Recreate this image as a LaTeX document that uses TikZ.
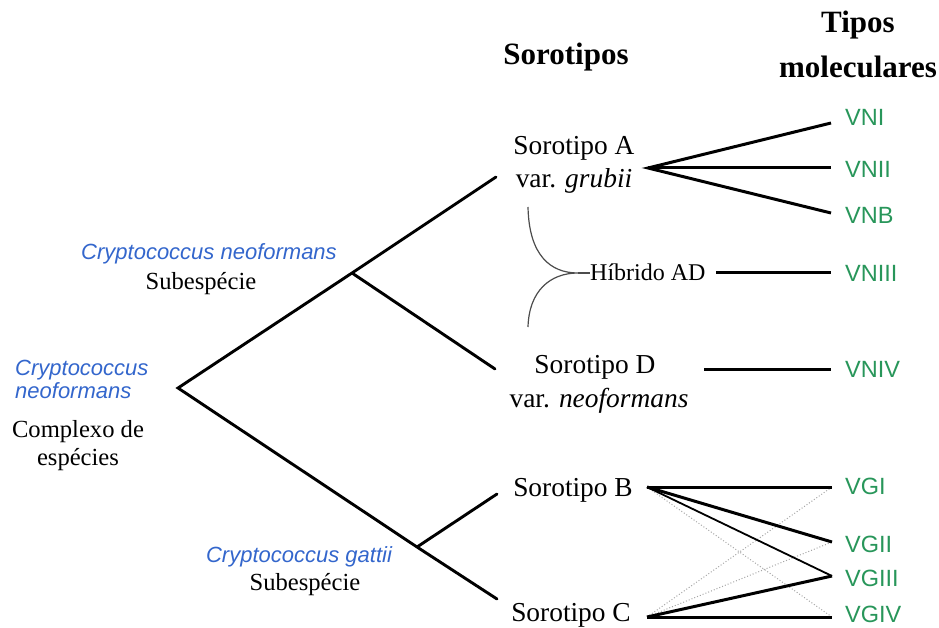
\documentclass[tikz,border=0pt]{standalone}
\usepackage{fontspec}
\setmainfont{Liberation Serif}
\setsansfont{Liberation Sans}
\definecolor{cblue}{RGB}{51,102,204}
\definecolor{cgreen}{RGB}{40,150,90}
\begin{document}
\begin{tikzpicture}[x=1pt,y=-1pt,
 branch/.style={line width=2.9pt, line cap=round},
 fanline/.style={line width=3pt},
 midline/.style={line width=1.8pt},
 dotline/.style={line width=1pt, gray!70, dotted},
 hybline/.style={line width=1.2pt, black!70},
 serif/.style={font=\fontsize{27.4}{33}\selectfont, anchor=base, inner sep=0pt},
 small/.style={font=\fontsize{24.6}{28}\selectfont, anchor=base, inner sep=0pt},
 head/.style={font=\fontsize{31}{36}\selectfont\bfseries, anchor=base, inner sep=0pt},
 spec/.style={font=\fontsize{22}{26}\selectfont\sffamily\itshape, text=cblue, anchor=base, inner sep=0pt},
 mol/.style={font=\fontsize{23.5}{28}\selectfont\sffamily, text=cgreen, anchor=base west, inner sep=0pt},
]
\useasboundingbox (0,0) rectangle (939,628);

% headers
\node[head] (hsoro) at (566,65) {Sorotipos};
\node[head] (htip) at (858,33) {Tipos};
\node[head] (hmol) at (858,78) {moleculares};

% tree coordinates
\coordinate (root) at (178,388);
\coordinate (nsub) at (352,273);
\coordinate (gsub) at (417,547);
\coordinate (A) at (496,177);
\coordinate (D) at (495,369);
\coordinate (B) at (497,494);
\coordinate (C) at (497,599);
\draw[branch] (A) -- (nsub) -- (root) -- (gsub) -- (C);
\draw[branch] (nsub) -- (D);
\draw[branch] (gsub) -- (B);

% left labels
\node[spec] (cn1) at (209,260) {Cryptococcus neoformans};
\node[small] (sub1) at (201,289) {Subespécie};
\node[spec, anchor=base west] (cn2a) at (15,375) {Cryptococcus};
\node[spec, anchor=base west] (cn2b) at (15,398) {neoformans};
\node[small] (cx1) at (78,437) {Complexo de};
\node[small] (cx2) at (78,465) {espécies};
\node[spec] (cg) at (299,562) {Cryptococcus gattii};
\node[small] (sub2) at (305,590) {Subespécie};

% serotypes
\node[serif] (sA1) at (574,155) {Sorotipo A};
\node[serif] (sA2) at (574,188) {var. \textit{grubii}};
\node[serif] (sD1) at (595,373) {Sorotipo D};
\node[serif] (sD2) at (599,407) {var. \textit{neoformans}};
\node[serif] (sB) at (573,496) {Sorotipo B};
\node[serif] (sC) at (571,621) {Sorotipo C};

% molecular types
\node[mol] (vni) at (845,126) {VNI};
\node[mol] (vnii) at (845,178) {VNII};
\node[mol] (vnb) at (845,224) {VNB};
\node[mol] (vniii) at (845,281) {VNIII};
\node[mol] (vniv) at (845,377) {VNIV};
\node[mol] (vgi) at (845,494) {VGI};
\node[mol] (vgii) at (845,552) {VGII};
\node[mol] (vgiii) at (845,586) {VGIII};
\node[mol] (vgiv) at (845,622) {VGIV};

% fan A
\coordinate (Af) at (648,168);
\coordinate (e1) at (831,123);
\coordinate (e2) at (831,168);
\coordinate (e3) at (831,213);
\draw[fanline] (e1) -- (Af) -- (e3);
\draw[fanline] (Af) -- (e2);

% hybrid
\coordinate (h1) at (528,207);
\coordinate (h2) at (528,327);
\coordinate (hj) at (578,273);
\node[small, font=\fontsize{24}{28}\selectfont, anchor=base west] (hyb) at (590,280) {Híbrido AD};
\draw[hybline] (h1) .. controls (529,255) and (550,273) .. (hj)
               .. controls (550,273) and (529,291) .. (h2);
\draw[hybline] (hj) -- (hyb.west |- hj);
\coordinate (e4a) at (716,272);
\coordinate (e4) at (831,272);
\draw[fanline] (e4a) -- (e4);

% D
\coordinate (e5a) at (704,369);
\coordinate (e5) at (831,369);
\draw[fanline] (e5a) -- (e5);

% B, C fans
\coordinate (Bf) at (647,487);
\coordinate (Cf) at (647,617);
\coordinate (g1) at (832,487);
\coordinate (g2) at (832,542);
\coordinate (g3) at (832,576);
\coordinate (g4) at (832,617);
\draw[dotline] (Bf) -- (g4);
\draw[dotline] (Cf) -- (g1);
\draw[dotline] (Cf) -- (g2);
\draw[midline] (Bf) -- (g3);
\draw[fanline] (Bf) -- (g1);
\draw[fanline] (Bf) -- (g2);
\draw[fanline] (Cf) -- (g3);
\draw[fanline] (Cf) -- (g4);
\end{tikzpicture}
\end{document}
